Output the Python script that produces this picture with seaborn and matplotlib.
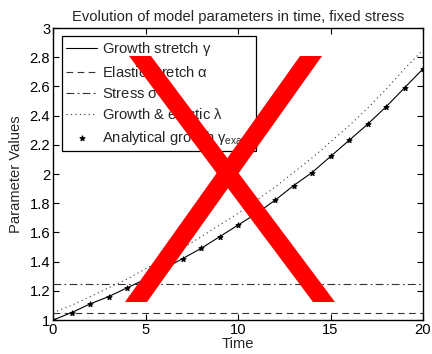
import matplotlib
matplotlib.use("Agg")
import matplotlib.pyplot as plt
from matplotlib.patches import Polygon
from matplotlib.ticker import FormatStrFormatter
import seaborn as sns

# values
time = list(range(21))
growth_stretch = [1.00, 1.05, 1.11, 1.16, 1.22, 1.28, 1.35, 1.42, 1.49, 1.57, 1.65,
                  1.73, 1.82, 1.92, 2.01, 2.12, 2.23, 2.34, 2.46, 2.59, 2.72]
growth_elastic = [1.05, 1.10, 1.16, 1.22, 1.28, 1.35, 1.42, 1.49, 1.57, 1.65, 1.73,
                  1.82, 1.91, 2.01, 2.11, 2.22, 2.33, 2.45, 2.58, 2.72, 2.85]
analytical_growth = growth_stretch
elastic_stretch = 1.05
stress = 1.25

sns.set_style("ticks")
plt.rcParams['font.family'] = ['Liberation Sans', 'DejaVu Sans']
plt.rcParams['mathtext.fontset'] = 'custom'
plt.rcParams['mathtext.rm'] = 'Liberation Sans'
plt.rcParams['mathtext.it'] = 'Liberation Sans'

FS = 10.6
W, H = 432, 354
fig = plt.figure(figsize=(W / 100, H / 100), dpi=100)
ax = fig.add_axes([53 / W, 1 - 320 / H, 370 / W, 292 / H])

sns.lineplot(x=time, y=growth_stretch, ax=ax, color='k', lw=0.8,
             label=r'Growth stretch $\gamma$')
sns.lineplot(x=time, y=[elastic_stretch] * len(time), ax=ax, color='0.2', lw=0.8,
             label=r'Elastic stretch $\alpha$')
ax.lines[-1].set_dashes((6, 4))
sns.lineplot(x=time, y=[stress] * len(time), ax=ax, color='0.2', lw=0.8,
             label=r'Stress $\sigma$')
ax.lines[-1].set_dashes((7, 3, 1.5, 3))
sns.lineplot(x=time, y=growth_elastic, ax=ax, color='0.2', lw=0.8,
             label=r'Growth & elastic $\lambda$')
ax.lines[-1].set_dashes((1, 3))
sns.scatterplot(x=time, y=analytical_growth, ax=ax, color='k', marker='*', s=14,
                edgecolor='k', linewidth=0.8, zorder=5,
                label=r'Analytical growth $\gamma_{exact}$')

ax.set_xlim(0, 20)
ax.set_ylim(1, 3)
ax.set_xticks([0, 5, 10, 15, 20])
ax.set_yticks([1, 1.2, 1.4, 1.6, 1.8, 2, 2.2, 2.4, 2.6, 2.8, 3])
ax.yaxis.set_major_formatter(FormatStrFormatter('%g'))
ax.tick_params(direction='in', length=4, width=0.8, labelsize=FS, colors='k',
               top=True, right=True, pad=2)
for sp in ax.spines.values():
    sp.set_visible(True)
    sp.set_linewidth(1.0)
    sp.set_color('k')

ax.set_title('Evolution of model parameters in time, fixed stress', fontsize=FS, pad=5)
ax.set_xlabel('Time', fontsize=FS, labelpad=0)
ax.set_ylabel('Parameter Values', fontsize=FS, labelpad=5)

leg = ax.legend(loc='upper left', bbox_to_anchor=(62 / W, 1 - 36 / H),
                bbox_transform=fig.transFigure, borderaxespad=0, fontsize=FS,
                fancybox=False, framealpha=1, edgecolor='k', handlelength=2.1,
                handletextpad=0.3, labelspacing=0.45, borderpad=0.3)
leg.get_frame().set_linewidth(0.9)

# red X drawn over the chart
arms = [
    [(129, 56), (151, 56), (335, 302), (313, 302)],
    [(300, 56), (322, 56), (147, 302), (125, 302)],
]
for pts in arms:
    poly = Polygon([(x / W, 1 - y / H) for x, y in pts], closed=True,
                   facecolor='#ff0000', edgecolor='none',
                   transform=fig.transFigure, zorder=20)
    fig.add_artist(poly)

fig.savefig('out.png', dpi=100)
